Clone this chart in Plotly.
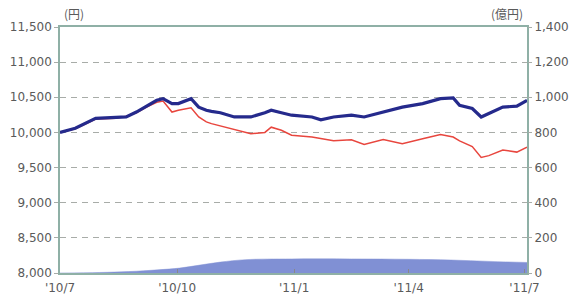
import plotly.graph_objects as go

# --- data ---
dates = ["2010-07-01", "2010-07-13", "2010-07-29", "2010-08-14", "2010-08-22", "2010-08-30",
         "2010-09-07", "2010-09-15", "2010-09-20", "2010-09-27", "2010-10-02", "2010-10-12",
         "2010-10-18", "2010-10-24", "2010-10-28", "2010-11-04", "2010-11-15", "2010-11-28",
         "2010-12-09", "2010-12-14", "2010-12-22", "2010-12-30", "2011-01-15", "2011-01-22",
         "2011-02-01", "2011-02-15", "2011-02-25", "2011-03-12", "2011-03-27", "2011-04-12",
         "2011-04-26", "2011-05-06", "2011-05-11", "2011-05-21", "2011-05-28", "2011-06-03",
         "2011-06-14", "2011-06-25", "2011-07-03"]
nav_blue = [10000, 10060, 10200, 10210, 10220, 10290, 10375, 10457, 10480, 10410, 10410, 10480,
            10360, 10315, 10300, 10280, 10220, 10220, 10280, 10315, 10280, 10245, 10220, 10180,
            10220, 10245, 10220, 10290, 10360, 10410, 10480, 10490, 10385, 10340, 10220, 10270,
            10360, 10375, 10457]
nav_red = [10000, 10050, 10190, 10200, 10230, 10280, 10360, 10430, 10447, 10290, 10315, 10350,
           10220, 10150, 10125, 10090, 10040, 9980, 10000, 10075, 10030, 9960, 9935, 9910,
           9880, 9895, 9830, 9900, 9840, 9910, 9970, 9935, 9880, 9800, 9645, 9670,
           9750, 9720, 9790]

asset_dates = ["2010-07-01", "2010-08-01", "2010-08-24", "2010-09-16", "2010-10-03", "2010-10-19",
               "2010-11-04", "2010-11-24", "2010-12-30", "2011-02-15", "2011-04-01", "2011-05-04",
               "2011-06-04", "2011-07-03"]
net_assets = [0, 3, 8, 18, 28, 45, 62, 76, 80, 80, 78, 74, 66, 60]

tick_dates = ["2010-07-01", "2010-10-01", "2011-01-01", "2011-04-01", "2011-07-01"]
tick_text = ["'10/7", "'10/10", "'11/1", "'11/4", "'11/7"]

left_ticks = [8000, 8500, 9000, 9500, 10000, 10500, 11000, 11500]
right_ticks = [0, 200, 400, 600, 800, 1000, 1200, 1400]

FONT = dict(family="DejaVu Sans", size=12, color="#5a5a5a")
BORDER = "#8fb0a6"
GRID = "#a8aca8"

fig = go.Figure()
fig.add_trace(go.Scatter(x=asset_dates, y=net_assets, yaxis="y2", mode="lines",
                         line=dict(color="rgb(128,144,212)", width=0.5, shape="spline"),
                         fill="tozeroy", fillcolor="rgb(128,144,212)", hoverinfo="skip"))
fig.add_trace(go.Scatter(x=dates, y=nav_red, mode="lines",
                         line=dict(color="#e8463e", width=1.5)))
fig.add_trace(go.Scatter(x=dates, y=nav_blue, mode="lines",
                         line=dict(color="#252a8c", width=3.2)))

fig.update_layout(
    width=573, height=299,
    margin=dict(l=60, r=46, t=27, b=26),
    paper_bgcolor="white", plot_bgcolor="white",
    showlegend=False,
    font=FONT,
    xaxis=dict(type="date", range=["2010-07-01", "2011-07-03"],
               tickvals=tick_dates, ticktext=tick_text,
               showgrid=False, zeroline=False, automargin=False,
               showline=True, linecolor=BORDER, linewidth=1.5, mirror=True,
               ticks="inside", ticklen=4, tickcolor="#888", tickfont=FONT,
               ticklabelstandoff=3),
    yaxis=dict(range=[8000, 11500], tickvals=left_ticks, tickformat=",",
               showgrid=True, gridcolor=GRID, griddash="6px,5px", gridwidth=1,
               zeroline=False, showline=True, linecolor=BORDER, linewidth=1.5, mirror=True,
               automargin=False,
               ticks="outside", ticklen=4, tickcolor=GRID, tickfont=FONT),
    yaxis2=dict(range=[0, 1400], tickvals=right_ticks, tickformat=",",
                overlaying="y", side="right", showgrid=False, zeroline=False,
                automargin=False,
                showline=False, ticks="outside", ticklen=4, tickcolor=GRID, tickfont=FONT),
    annotations=[
        dict(text="(円)", xref="paper", yref="paper", x=0, y=1, xanchor="left",
             yanchor="middle", yshift=14, xshift=2, showarrow=False,
             font=dict(family="Noto Sans CJK JP", size=12, color="#5a5a5a")),
        dict(text="(億円)", xref="paper", yref="paper", x=1, y=1, xanchor="right",
             yanchor="middle", yshift=14, xshift=-2, showarrow=False,
             font=dict(family="Noto Sans CJK JP", size=12, color="#5a5a5a")),
    ],
)

fig.write_html("out.html", config={"displayModeBar": False},
               post_script="document.body.style.margin='0';document.body.style.overflow='hidden';")
